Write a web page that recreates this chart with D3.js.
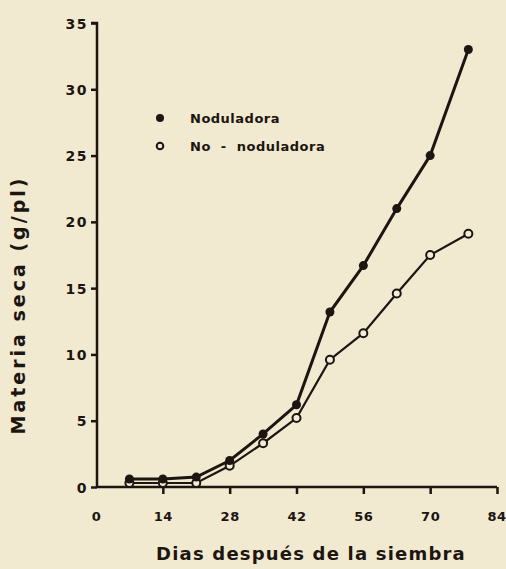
<!DOCTYPE html>
<html><head><meta charset="utf-8">
<script src="https://cdn.jsdelivr.net/npm/d3@7"></script>
<style>
html,body{margin:0;padding:0;background:#f1e9d0;}
svg{display:block;}
text{font-family:"DejaVu Sans",sans-serif;font-weight:bold;fill:#1c1510;}
</style></head><body>
<script>
const days = [7,14,21,28,35,42,49,56,63,70,78];
const noduladora = [0.6,0.6,0.75,2.0,4.0,6.2,13.2,16.7,21.0,25.0,33.0];
const noNoduladora = [0.3,0.3,0.3,1.6,3.3,5.2,9.6,11.6,14.6,17.5,19.1];
const xTicks = [0,14,28,42,56,70,84];
const yTicks = [0,5,10,15,20,25,30,35];
const seriesNames = ["Noduladora","No - noduladora"];

const W=506,H=569, ink="#1c1510";
const svg=d3.select("body").append("svg").attr("width",W).attr("height",H);
const x=d3.scaleLinear().domain([0,84]).range([96,497]);
const y=d3.scaleLinear().domain([0,35]).range([487,23]);

// y axis
const ya=svg.append("g").attr("transform","translate(97,0)")
  .call(d3.axisLeft(y).tickValues(yTicks).tickSize(6).tickPadding(3).tickFormat(d3.format("d")));
ya.select(".domain").attr("stroke",ink).attr("stroke-width",2.5).attr("d","M-6,23H0V487");
ya.selectAll(".tick line").attr("stroke",ink).attr("stroke-width",2.5);
ya.selectAll(".tick text").style("font-size","14px").style("letter-spacing","1.5px").attr("dy","0.36em");

// x axis
const xa=svg.append("g").attr("transform","translate(0,487)")
  .call(d3.axisBottom(x).tickValues(xTicks).tickSize(7).tickPadding(18).tickFormat(d3.format("d")));
xa.select(".domain").attr("stroke",ink).attr("stroke-width",2.5).attr("d","M97,0H497");
xa.selectAll(".tick line").attr("stroke",ink).attr("stroke-width",2.5)
  .filter(d=>d===0).remove();
xa.selectAll(".tick text").style("font-size","13px").style("letter-spacing","0.5px")
  .filter(d=>d===84).attr("text-anchor","end").attr("dx","9px");

// titles
svg.append("text").attr("transform","translate(25,305) rotate(-90)")
  .attr("text-anchor","middle").style("font-size","19px").style("letter-spacing","3px")
  .text("Materia seca (g/pl)");
svg.append("text").attr("x",311).attr("y",560).attr("text-anchor","middle")
  .style("font-size","18px").style("letter-spacing","1.2px").text("Dias después de la siembra");

// lines
const line=d3.line().x((d,i)=>x(days[i])).y(d=>y(d));
svg.append("path").datum(noNoduladora).attr("d",line).attr("fill","none")
  .attr("stroke",ink).attr("stroke-width",2.2);
svg.append("path").datum(noduladora).attr("d",line).attr("fill","none")
  .attr("stroke",ink).attr("stroke-width",3);

svg.append("g").selectAll("circle").data(noNoduladora).join("circle")
  .attr("cx",(d,i)=>x(days[i])).attr("cy",d=>y(d)).attr("r",4)
  .attr("fill","#f4eed8").attr("stroke",ink).attr("stroke-width",2);
svg.append("g").selectAll("circle").data(noduladora).join("circle")
  .attr("cx",(d,i)=>x(days[i])).attr("cy",d=>y(d)).attr("r",4.5)
  .attr("fill",ink);

// legend
const lg=svg.append("g");
lg.append("circle").attr("cx",160).attr("cy",118).attr("r",4).attr("fill",ink);
lg.append("circle").attr("cx",160).attr("cy",146).attr("r",3.3).attr("fill","none").attr("stroke",ink).attr("stroke-width",2);
lg.selectAll("text").data(seriesNames).join("text")
  .attr("x",190).attr("y",(d,i)=>118+i*28).attr("dy","0.35em")
  .style("font-size","13px").style("letter-spacing","0.5px").style("word-spacing","5px").text(d=>d);
</script>
</body></html>
